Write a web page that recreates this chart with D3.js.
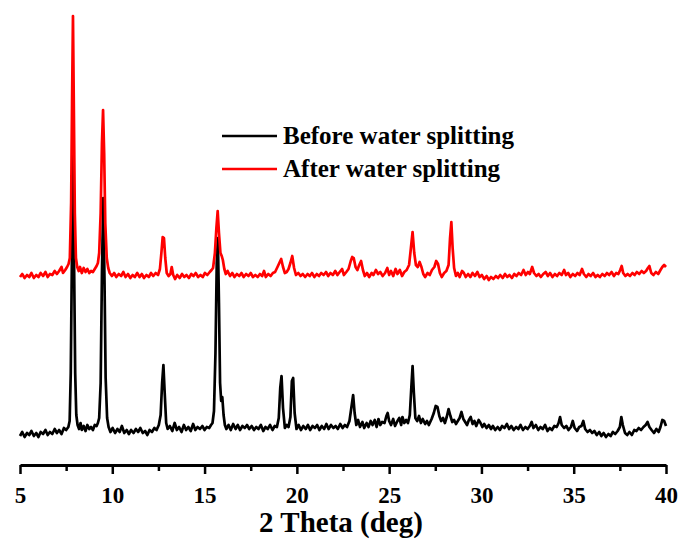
<!DOCTYPE html>
<html>
<head>
<meta charset="utf-8">
<script src="https://cdn.jsdelivr.net/npm/d3@7"></script>
<style>
  body { margin: 0; background: #fff; }
  text { font-family: "Liberation Serif", "Times New Roman", serif; font-weight: bold; }
</style>
</head>
<body>
<svg id="chart"></svg>
<script>
var width = 681;
var height = 545;

// 2 Theta (deg) ticks
var majorTicks = [5, 10, 15, 20, 25, 30, 35, 40];
var minorTicks = [7.5, 12.5, 17.5, 22.5, 27.5, 32.5, 37.5];

var seriesNames = ["Before water splitting", "After water splitting"];

// [2theta, intensity a.u.] (After is stacked above Before)
var beforeData = [
[5.00,27],[5.12,31],[5.25,26],[5.38,30],[5.50,28],[5.62,32],[5.75,27],[5.88,30],[6.00,26],[6.12,31],
[6.25,29],[6.38,33],[6.50,28],[6.62,31],[6.75,29],[6.88,34],[7.00,30],[7.12,33],[7.25,29],[7.38,35],
[7.50,33],[7.62,36],[7.69,42],[7.75,90],[7.81,200],[7.87,320],[7.93,200],[7.99,90],[8.05,48],[8.12,38],
[8.20,34],[8.28,40],[8.35,33],[8.45,37],[8.55,32],[8.65,38],[8.75,34],[8.85,36],[8.95,33],[9.05,38],[9.15,37],
[9.22,40],[9.29,45],[9.37,80],[9.44,190],[9.51,265],[9.58,180],[9.64,85],[9.72,45],[9.80,36],[9.90,31],[10.02,35],
[10.15,30],[10.28,34],[10.40,31],[10.52,37],[10.65,30],[10.78,33],[10.90,29],[11.02,33],[11.15,30],[11.28,34],
[11.40,31],[11.52,35],[11.65,30],[11.78,32],[11.90,28],[12.02,33],[12.15,31],[12.28,35],[12.40,33],[12.52,38],
[12.62,48],[12.70,80],[12.77,98],[12.84,70],[12.92,40],[13.00,34],[13.12,37],[13.25,32],[13.38,40],[13.50,33],
[13.62,36],[13.75,31],[13.88,38],[14.00,33],[14.12,36],[14.25,32],[14.38,39],[14.50,33],[14.62,36],[14.75,34],
[14.88,37],[15.00,33],[15.12,36],[15.25,35],[15.35,38],[15.43,40],[15.51,52],[15.59,110],[15.66,200],[15.72,225],
[15.78,160],[15.84,80],[15.90,62],[15.96,66],[16.03,48],[16.10,38],[16.18,34],[16.30,38],[16.42,33],[16.55,39],[16.68,34],
[16.80,38],[16.92,33],[17.05,37],[17.18,35],[17.30,38],[17.42,34],[17.55,37],[17.68,33],[17.80,36],[17.92,34],
[18.05,38],[18.18,32],[18.30,36],[18.42,34],[18.55,38],[18.68,33],[18.80,37],[18.92,36],[19.02,45],[19.10,75],
[19.17,87],[19.25,55],[19.35,35],[19.45,38],[19.55,36],[19.65,46],[19.73,82],[19.80,85],[19.88,50],[19.98,34],
[20.10,38],[20.22,33],[20.35,37],[20.48,34],[20.60,38],[20.72,33],[20.85,37],[20.98,35],[21.10,38],[21.22,33],
[21.35,37],[21.48,34],[21.60,39],[21.72,34],[21.85,38],[21.98,35],[22.10,37],[22.22,34],[22.35,39],[22.48,35],
[22.60,38],[22.72,36],[22.85,42],[22.95,55],[23.05,68],[23.13,50],[23.22,38],[23.32,43],[23.42,36],[23.55,41],
[23.65,35],[23.78,40],[23.88,36],[24.00,42],[24.10,38],[24.22,43],[24.32,36],[24.42,44],[24.52,38],[24.62,41],
[24.75,40],[24.85,47],[24.92,50],[25.00,42],[25.10,38],[25.22,44],[25.32,37],[25.45,42],[25.55,45],[25.65,38],
[25.72,46],[25.82,40],[25.92,43],[26.02,40],[26.12,48],[26.20,75],[26.27,97],[26.34,70],[26.42,45],[26.52,42],
[26.62,47],[26.72,40],[26.82,44],[26.95,39],[27.05,42],[27.15,38],[27.30,44],[27.42,50],[27.52,57],[27.62,56],
[27.72,47],[27.82,42],[27.92,45],[28.02,40],[28.12,46],[28.22,54],[28.32,47],[28.42,41],[28.52,43],[28.62,39],
[28.72,42],[28.82,45],[28.92,51],[29.02,44],[29.12,41],[29.22,38],[29.32,43],[29.42,46],[29.52,39],[29.62,42],
[29.72,37],[29.85,43],[29.95,40],[30.05,36],[30.15,39],[30.28,35],[30.40,38],[30.52,34],[30.62,37],[30.75,33],
[30.88,36],[31.00,33],[31.12,37],[31.25,35],[31.38,39],[31.50,34],[31.62,37],[31.75,33],[31.88,36],[32.00,34],
[32.12,38],[32.25,33],[32.38,36],[32.50,34],[32.62,37],[32.72,41],[32.82,35],[32.95,38],[33.08,33],[33.20,36],
[33.32,34],[33.45,38],[33.58,32],[33.70,35],[33.82,33],[33.95,37],[34.08,36],[34.18,40],[34.26,46],[34.35,38],
[34.48,35],[34.60,37],[34.72,33],[34.85,36],[34.95,42],[35.05,35],[35.18,32],[35.30,36],[35.42,37],[35.52,42],
[35.62,34],[35.75,31],[35.88,33],[36.00,30],[36.12,32],[36.25,28],[36.38,31],[36.50,27],[36.62,30],[36.75,26],
[36.88,29],[37.00,27],[37.12,31],[37.25,29],[37.38,32],[37.50,36],[37.58,46],[37.66,38],[37.78,30],[37.90,28],
[38.02,31],[38.15,28],[38.28,33],[38.40,32],[38.52,35],[38.65,33],[38.78,36],[38.90,38],[39.00,41],[39.10,36],
[39.22,33],[39.35,30],[39.48,34],[39.60,31],[39.70,36],[39.80,43],[39.90,42],[40.00,37]
];

var afterData = [
[5.00,186],[5.12,189],[5.25,185],[5.38,188],[5.50,186],[5.62,190],[5.75,185],[5.88,188],[6.00,186],[6.12,190],
[6.25,187],[6.38,191],[6.50,186],[6.62,189],[6.75,188],[6.88,192],[7.00,189],[7.12,192],[7.25,196],[7.33,190],
[7.45,193],[7.55,196],[7.63,199],[7.70,205],[7.77,260],[7.82,360],[7.87,447],[7.92,350],[7.97,250],[8.03,205],
[8.10,196],[8.18,192],[8.25,196],[8.35,190],[8.45,195],[8.55,191],[8.65,194],[8.75,190],[8.85,192],[8.95,191],[9.05,194],
[9.15,197],[9.22,200],[9.29,210],[9.37,250],[9.44,320],[9.50,353],[9.56,310],[9.62,240],[9.70,205],[9.78,195],[9.86,190],
[9.98,187],[10.10,190],[10.22,186],[10.35,189],[10.48,187],[10.60,191],[10.72,186],[10.85,189],[10.98,185],[11.10,188],
[11.22,186],[11.35,190],[11.48,186],[11.60,189],[11.72,185],[11.85,188],[11.98,186],[12.10,190],[12.22,187],[12.35,190],
[12.48,188],[12.58,194],[12.66,210],[12.73,226],[12.80,225],[12.87,205],[12.95,190],[13.05,187],[13.15,189],[13.22,196],
[13.30,188],[13.40,184],[13.52,188],[13.65,185],[13.78,189],[13.90,186],[14.02,188],[14.15,185],[14.28,189],[14.40,187],
[14.52,190],[14.65,186],[14.78,188],[14.90,186],[15.02,190],[15.15,188],[15.28,191],[15.38,193],[15.46,195],[15.56,210],
[15.64,235],[15.71,252],[15.78,230],[15.86,210],[15.93,207],[15.99,203],[16.07,194],[16.15,189],[16.25,192],[16.38,187],[16.50,190],
[16.62,186],[16.75,189],[16.88,187],[17.00,190],[17.12,186],[17.25,189],[17.38,187],[17.50,190],[17.62,186],[17.75,188],
[17.88,186],[18.00,189],[18.12,187],[18.22,192],[18.32,186],[18.45,189],[18.58,187],[18.70,190],[18.82,191],[18.95,196],
[19.05,200],[19.15,204],[19.25,196],[19.35,190],[19.45,191],[19.55,194],[19.65,200],[19.75,207],[19.85,195],[19.95,188],
[20.08,190],[20.20,187],[20.32,189],[20.45,186],[20.58,189],[20.70,187],[20.82,190],[20.95,186],[21.08,189],[21.20,187],
[21.32,190],[21.45,188],[21.58,191],[21.70,187],[21.82,190],[21.95,188],[22.08,192],[22.20,188],[22.32,191],[22.45,194],
[22.55,188],[22.68,191],[22.80,194],[22.92,202],[23.00,206],[23.08,205],[23.18,196],[23.28,193],[23.38,198],[23.48,202],
[23.58,193],[23.68,187],[23.80,190],[23.92,186],[24.05,190],[24.15,188],[24.28,193],[24.40,189],[24.52,191],[24.65,187],
[24.78,190],[24.90,195],[25.00,188],[25.10,192],[25.22,187],[25.35,194],[25.45,189],[25.58,193],[25.70,187],[25.82,191],
[25.95,193],[26.08,198],[26.18,215],[26.27,231],[26.36,210],[26.45,198],[26.55,196],[26.65,201],[26.75,196],[26.85,189],
[26.95,186],[27.08,190],[27.20,188],[27.32,193],[27.45,196],[27.55,202],[27.65,199],[27.75,190],[27.85,186],[27.98,190],
[28.10,192],[28.22,198],[28.30,225],[28.37,241],[28.44,215],[28.52,195],[28.62,187],[28.72,190],[28.82,186],[28.95,192],
[29.05,190],[29.15,186],[29.28,189],[29.40,186],[29.52,190],[29.65,187],[29.78,191],[29.90,186],[30.02,188],[30.15,184],
[30.28,187],[30.40,183],[30.52,186],[30.65,184],[30.78,187],[30.90,185],[31.02,188],[31.15,185],[31.28,189],[31.40,186],
[31.52,188],[31.65,185],[31.78,189],[31.90,187],[32.02,190],[32.15,188],[32.28,193],[32.40,188],[32.52,191],[32.62,189],
[32.75,196],[32.85,190],[32.98,187],[33.10,189],[33.22,186],[33.35,189],[33.48,191],[33.60,187],[33.72,190],[33.85,186],
[33.98,189],[34.10,187],[34.22,190],[34.35,188],[34.48,193],[34.58,188],[34.70,190],[34.82,186],[34.95,189],[35.08,187],
[35.20,190],[35.32,188],[35.45,194],[35.55,189],[35.68,186],[35.80,189],[35.92,187],[36.05,190],[36.18,186],[36.30,188],
[36.42,186],[36.55,189],[36.68,187],[36.80,190],[36.92,188],[37.05,191],[37.18,187],[37.30,190],[37.42,189],[37.52,193],
[37.60,197],[37.68,190],[37.80,187],[37.92,189],[38.05,187],[38.18,190],[38.30,188],[38.42,191],[38.55,189],[38.68,192],
[38.80,190],[38.92,192],[39.02,195],[39.10,197],[39.20,190],[39.32,188],[39.45,191],[39.58,189],[39.70,193],[39.80,196],
[39.90,198],[40.00,196]
];

var colors = ["#000000", "#ff0000"];

var svg = d3.select("#chart").attr("width", width).attr("height", height);

var x = d3.scaleLinear().domain([5, 40]).range([20, 666]);
var y = d3.scaleLinear().domain([0, 450]).range([463, 13]);
var axisY = 465;

var line = d3.line()
    .x(function(d) { return x(d[0]); })
    .y(function(d) { return y(d[1]); });

// black first, red on top
[beforeData, afterData].forEach(function(data, i) {
    svg.append("path")
        .datum(data)
        .attr("fill", "none")
        .attr("stroke", colors[i])
        .attr("stroke-width", 2.7)
        .attr("stroke-linejoin", "round")
        .attr("d", line);
});

// minor ticks
svg.append("g")
    .attr("transform", "translate(0," + axisY + ")")
    .call(d3.axisBottom(x).tickValues(minorTicks).tickSize(6).tickFormat(""))
    .call(function(g) { g.select(".domain").remove(); })
    .selectAll("line").attr("stroke-width", 2.5);

var xAxis = svg.append("g")
    .attr("transform", "translate(0," + axisY + ")")
    .call(d3.axisBottom(x).tickValues(majorTicks).tickSize(9).tickSizeOuter(0).tickPadding(13).tickFormat(d3.format("d")));
xAxis.select(".domain").attr("stroke-width", 3);
xAxis.selectAll(".tick line").attr("stroke-width", 2.5);
xAxis.selectAll(".tick text")
    .attr("font-size", "23px")
    .attr("font-family", "Liberation Serif, serif")
    .attr("font-weight", "bold")
    .attr("fill", "#000");

svg.append("text")
    .attr("x", 341)
    .attr("y", 532)
    .attr("text-anchor", "middle")
    .attr("font-size", "29px")
    .text("2 Theta (deg)");

// legend
var legend = svg.append("g").attr("transform", "translate(222,136)");
seriesNames.forEach(function(name, i) {
    var g = legend.append("g").attr("transform", "translate(0," + (i * 33) + ")");
    g.append("line")
        .attr("x1", 0).attr("x2", 55)
        .attr("stroke", colors[i])
        .attr("stroke-width", 2.5);
    g.append("text")
        .attr("x", 61)
        .attr("y", 8)
        .attr("font-size", "25px")
        .text(name);
});
</script>
</body>
</html>
